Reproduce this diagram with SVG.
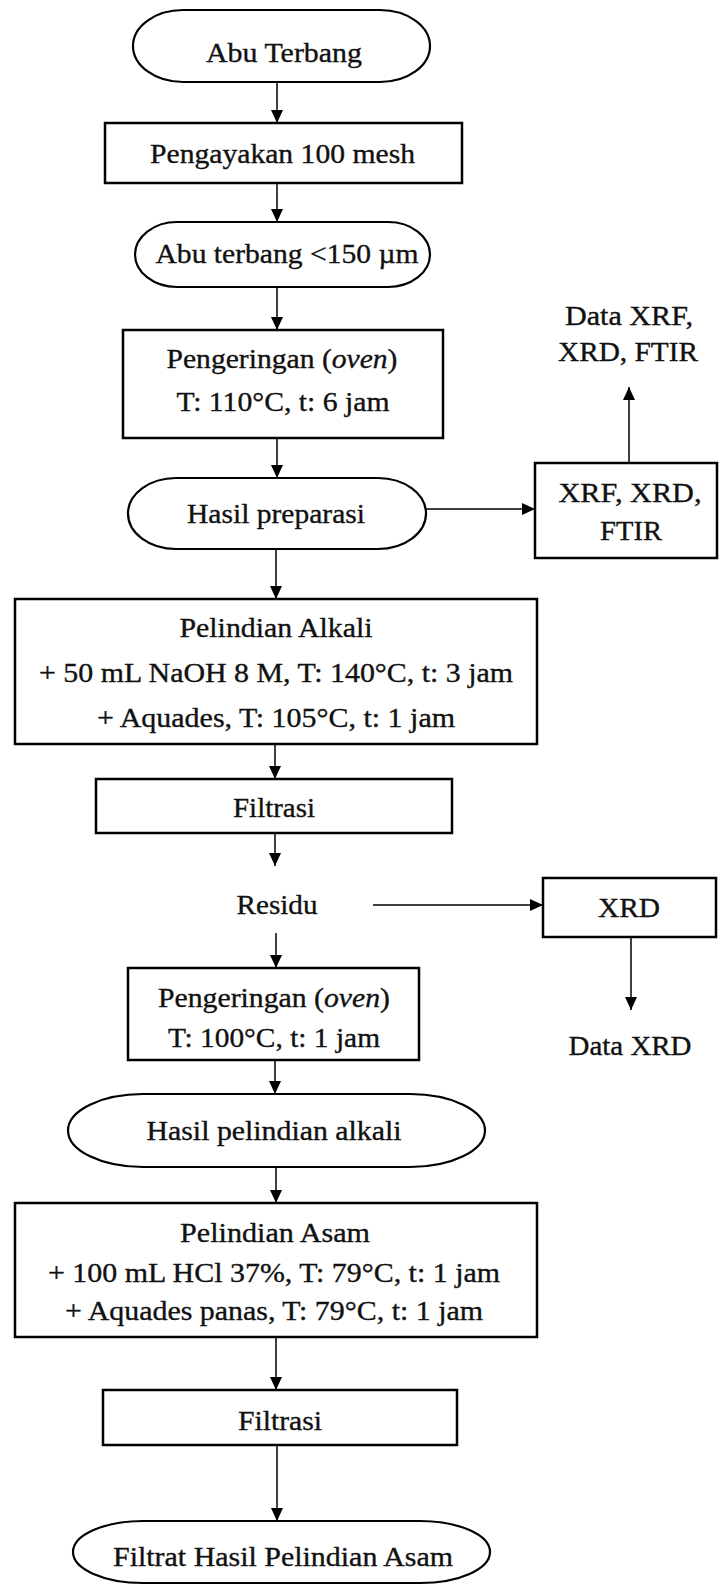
<svg xmlns="http://www.w3.org/2000/svg" width="719" height="1585" viewBox="0 0 719 1585" font-family="'Liberation Serif', 'Times New Roman', Times, serif">
<defs>
<style>
.box{fill:#fff;stroke:#000;stroke-width:2.5}
.term{fill:#fff;stroke:#000;stroke-width:2.2}
.con{stroke:#000;stroke-width:1.5;fill:none}
.t{font-size:28px;fill:#111;stroke:#111;stroke-width:0.35;text-anchor:middle}
.i{font-style:italic}
</style>
<marker id="ah" viewBox="0 0 13 12" refX="13" refY="6" markerWidth="13" markerHeight="12" markerUnits="userSpaceOnUse" orient="auto">
<path d="M0,0 L13,6 L0,12 Z" fill="#000"/>
</marker>
</defs>
<rect width="719" height="1585" fill="#fff"/>
<g id="connectors">
<line class="con" x1="277" y1="82" x2="277" y2="123" marker-end="url(#ah)"/>
<line class="con" x1="277" y1="183" x2="277" y2="222" marker-end="url(#ah)"/>
<line class="con" x1="277" y1="287" x2="277" y2="330" marker-end="url(#ah)"/>
<line class="con" x1="277" y1="438" x2="277" y2="478" marker-end="url(#ah)"/>
<line class="con" x1="426" y1="509" x2="535" y2="509" marker-end="url(#ah)"/>
<line class="con" x1="629" y1="463" x2="629" y2="387" marker-end="url(#ah)"/>
<line class="con" x1="276" y1="549" x2="276" y2="599" marker-end="url(#ah)"/>
<line class="con" x1="275" y1="744" x2="275" y2="779" marker-end="url(#ah)"/>
<line class="con" x1="275" y1="833" x2="275" y2="866" marker-end="url(#ah)"/>
<line class="con" x1="373" y1="905" x2="543" y2="905" marker-end="url(#ah)"/>
<line class="con" x1="631" y1="937" x2="631" y2="1010" marker-end="url(#ah)"/>
<line class="con" x1="276" y1="933" x2="276" y2="968" marker-end="url(#ah)"/>
<line class="con" x1="275" y1="1060" x2="275" y2="1094" marker-end="url(#ah)"/>
<line class="con" x1="276" y1="1167" x2="276" y2="1203" marker-end="url(#ah)"/>
<line class="con" x1="276" y1="1337" x2="276" y2="1390" marker-end="url(#ah)"/>
<line class="con" x1="277" y1="1445" x2="277" y2="1521" marker-end="url(#ah)"/>
</g>
<g id="abu-terbang">
<rect class="term" x="133" y="10" width="297" height="72" rx="50" ry="36"/>
<text class="t" x="284" y="62" textLength="156" lengthAdjust="spacingAndGlyphs">Abu Terbang</text>
</g>
<g id="pengayakan">
<rect class="box" x="105" y="123" width="357" height="60"/>
<text class="t" x="282.5" y="163" textLength="265" lengthAdjust="spacingAndGlyphs">Pengayakan 100 mesh</text>
</g>
<g id="abu-terbang-150">
<rect class="term" x="135" y="222" width="295" height="65" rx="42" ry="32.5"/>
<text class="t" x="287" y="263" textLength="263" lengthAdjust="spacingAndGlyphs">Abu terbang &lt;150 µm</text>
</g>
<g id="pengeringan-1">
<rect class="box" x="123" y="330" width="320" height="108"/>
<text class="t" x="282" y="368" textLength="231" lengthAdjust="spacingAndGlyphs">Pengeringan (<tspan class="i">oven</tspan>)</text>
<text class="t" x="283" y="411" textLength="213" lengthAdjust="spacingAndGlyphs">T: 110°C, t: 6 jam</text>
</g>
<g id="hasil-preparasi">
<rect class="term" x="128" y="478" width="298" height="71" rx="48" ry="35.5"/>
<text class="t" x="276" y="523" textLength="178" lengthAdjust="spacingAndGlyphs">Hasil preparasi</text>
</g>
<g id="xrf-xrd-ftir">
<rect class="box" x="535" y="463" width="182" height="95"/>
<text class="t" x="630" y="502" textLength="143" lengthAdjust="spacingAndGlyphs">XRF, XRD,</text>
<text class="t" x="631" y="540" textLength="62" lengthAdjust="spacingAndGlyphs">FTIR</text>
</g>
<g id="data-xrf">
<text class="t" x="629" y="325" textLength="128" lengthAdjust="spacingAndGlyphs">Data XRF,</text>
<text class="t" x="628" y="361" textLength="140" lengthAdjust="spacingAndGlyphs">XRD, FTIR</text>
</g>
<g id="pelindian-alkali">
<rect class="box" x="15" y="599" width="522" height="145"/>
<text class="t" x="276" y="637" textLength="193" lengthAdjust="spacingAndGlyphs">Pelindian Alkali</text>
<text class="t" x="276" y="682" textLength="474" lengthAdjust="spacingAndGlyphs">+ 50 mL NaOH 8 M, T: 140°C, t: 3 jam</text>
<text class="t" x="276" y="727" textLength="358" lengthAdjust="spacingAndGlyphs">+ Aquades, T: 105°C, t: 1 jam</text>
</g>
<g id="filtrasi-1">
<rect class="box" x="96" y="779" width="356" height="54"/>
<text class="t" x="274" y="817" textLength="82" lengthAdjust="spacingAndGlyphs">Filtrasi</text>
</g>
<g id="residu">
<text class="t" x="277" y="914" textLength="81" lengthAdjust="spacingAndGlyphs">Residu</text>
</g>
<g id="xrd">
<rect class="box" x="543" y="878" width="173" height="59"/>
<text class="t" x="629" y="917" textLength="62" lengthAdjust="spacingAndGlyphs">XRD</text>
</g>
<g id="data-xrd">
<text class="t" x="630" y="1055" textLength="123" lengthAdjust="spacingAndGlyphs">Data XRD</text>
</g>
<g id="pengeringan-2">
<rect class="box" x="128" y="968" width="291" height="92"/>
<text class="t" x="274" y="1007" textLength="232" lengthAdjust="spacingAndGlyphs">Pengeringan (<tspan class="i">oven</tspan>)</text>
<text class="t" x="274" y="1047" textLength="212" lengthAdjust="spacingAndGlyphs">T: 100°C, t: 1 jam</text>
</g>
<g id="hasil-pelindian-alkali">
<rect class="term" x="68" y="1094" width="417" height="73" rx="75" ry="36.5"/>
<text class="t" x="274" y="1140" textLength="255" lengthAdjust="spacingAndGlyphs">Hasil pelindian alkali</text>
</g>
<g id="pelindian-asam">
<rect class="box" x="15" y="1203" width="522" height="134"/>
<text class="t" x="275" y="1242" textLength="190" lengthAdjust="spacingAndGlyphs">Pelindian Asam</text>
<text class="t" x="274" y="1282" textLength="452" lengthAdjust="spacingAndGlyphs">+ 100 mL HCl 37%, T: 79°C, t: 1 jam</text>
<text class="t" x="274" y="1320" textLength="418" lengthAdjust="spacingAndGlyphs">+ Aquades panas, T: 79°C, t: 1 jam</text>
</g>
<g id="filtrasi-2">
<rect class="box" x="103" y="1390" width="354" height="55"/>
<text class="t" x="280" y="1430" textLength="84" lengthAdjust="spacingAndGlyphs">Filtrasi</text>
</g>
<g id="filtrat">
<rect class="term" x="73" y="1521" width="417" height="62" rx="70" ry="31"/>
<text class="t" x="283" y="1566" textLength="340" lengthAdjust="spacingAndGlyphs">Filtrat Hasil Pelindian Asam</text>
</g>
</svg>
